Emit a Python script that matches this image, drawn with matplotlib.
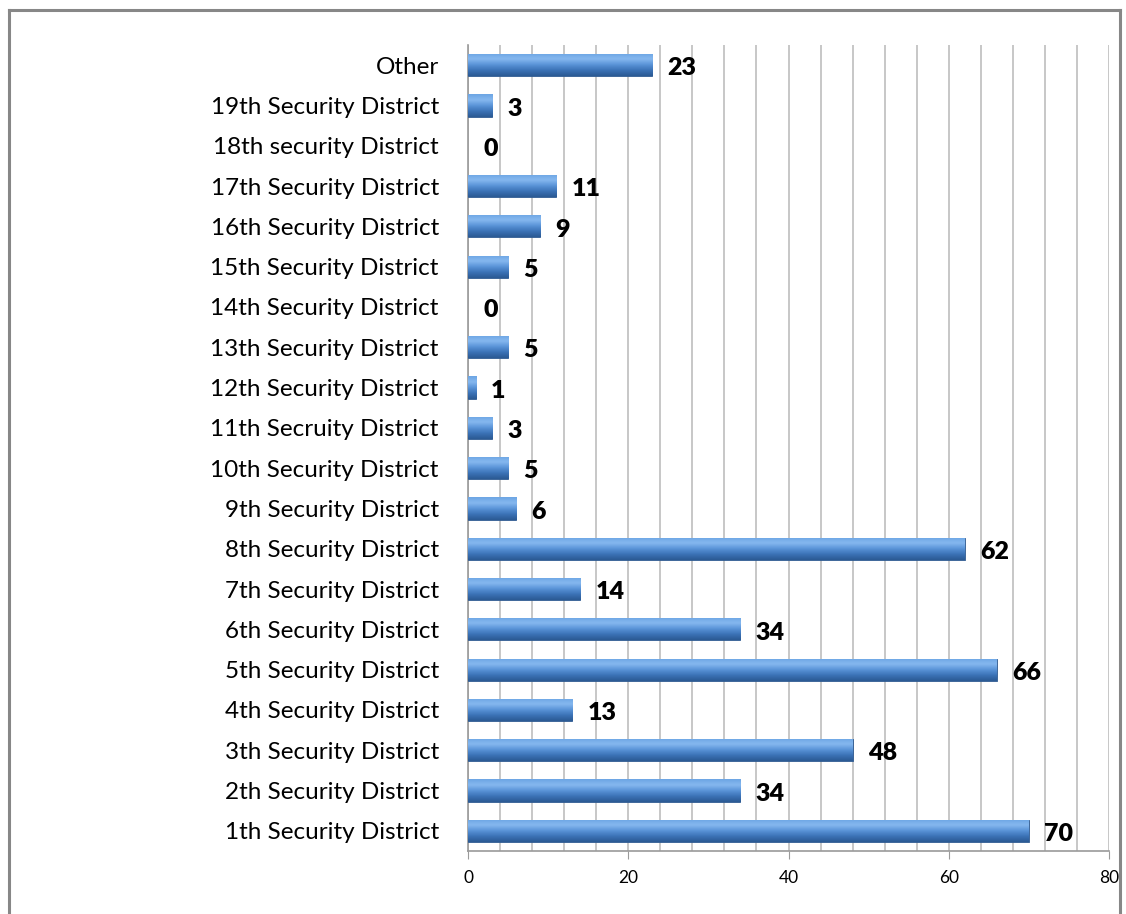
import numpy as np
import matplotlib
matplotlib.use('Agg')
import matplotlib.pyplot as plt
from matplotlib.colors import LinearSegmentedColormap
from matplotlib.lines import Line2D

categories = ['1th Security District', '2th Security District', '3th Security District',
              '4th Security District', '5th Security District', '6th Security District',
              '7th Security District', '8th Security District', '9th Security District',
              '10th Security District', '11th Secruity District', '12th Security District',
              '13th Security District', '14th Security District', '15th Security District',
              '16th Security District', '17th Security District', '18th security District',
              '19th Security District', 'Other']
values = [70, 34, 48, 13, 66, 34, 14, 62, 6, 5, 3, 1, 5, 0, 5, 9, 11, 0, 3, 23]
xticks = [0, 20, 40, 60, 80]

plt.rcParams['font.family'] = ['Lato', 'DejaVu Sans']

W, H = 1126, 914
fig = plt.figure(figsize=(W / 100, H / 100), dpi=100)
ax = fig.add_axes([468 / W, 1 - 851 / H, (1109 - 468) / W, (851 - 45) / H])

# outer chart frame
frame_kw = dict(color='#878787', lw=2.2, transform=fig.transFigure)
fig.add_artist(Line2D([9 / W, 9 / W], [1 - 10 / H, 0], **frame_kw))
fig.add_artist(Line2D([9 / W, 1120 / W], [1 - 10 / H, 1 - 10 / H], **frame_kw))
fig.add_artist(Line2D([1120 / W, 1120 / W], [1 - 10 / H, 0], **frame_kw))

y = np.arange(len(categories))
bars = ax.barh(y, values, height=0.55, color='#4a7fc4', edgecolor='#2f5a8f', lw=0.6, zorder=3)

# bevel-like gradient for each bar
cmap = LinearSegmentedColormap.from_list('bev', ['#2b5a93', '#3b72b6', '#5a94d8', '#86b8ef', '#6ca5e4'])
grad = np.linspace(0, 1, 64).reshape(-1, 1)
for b in bars:
    x0, y0, w, h = b.get_x(), b.get_y(), b.get_width(), b.get_height()
    if w <= 0:
        b.set_linewidth(0)
        continue
    im = ax.imshow(grad, cmap=cmap, aspect='auto', extent=(x0, x0 + w, y0, y0 + h),
                   origin='lower', zorder=3.5, interpolation='bicubic')
    im.set_clip_path(b)

for yi, v in zip(y, values):
    ax.text(v + 1.9, yi - 0.08, str(v), va='center', ha='left', fontsize=18,
            fontweight='heavy', color='black', zorder=5)

ax.set_xlim(0, 80)
ax.set_ylim(-0.5, len(categories) - 0.5)
ax.set_xticks(xticks)
ax.set_xticks(np.arange(0, 81, 4), minor=True)
ax.set_yticks(y)
ax.set_yticklabels(categories, fontsize=17.5)
ax.tick_params(axis='y', length=0, pad=21)
ax.tick_params(axis='x', which='major', length=6, color='#9a9a9a', labelsize=12.5, pad=8)
ax.tick_params(axis='x', which='minor', length=0)
ax.grid(axis='x', which='both', color='#bdbdbd', lw=1.2, zorder=0)
ax.set_axisbelow(True)

for s in ['top', 'right']:
    ax.spines[s].set_visible(False)
ax.spines['left'].set_color('#9a9a9a')
ax.spines['bottom'].set_color('#9a9a9a')
ax.spines['left'].set_linewidth(1.2)
ax.spines['bottom'].set_linewidth(1.2)

fig.savefig('out.png', dpi=100)
